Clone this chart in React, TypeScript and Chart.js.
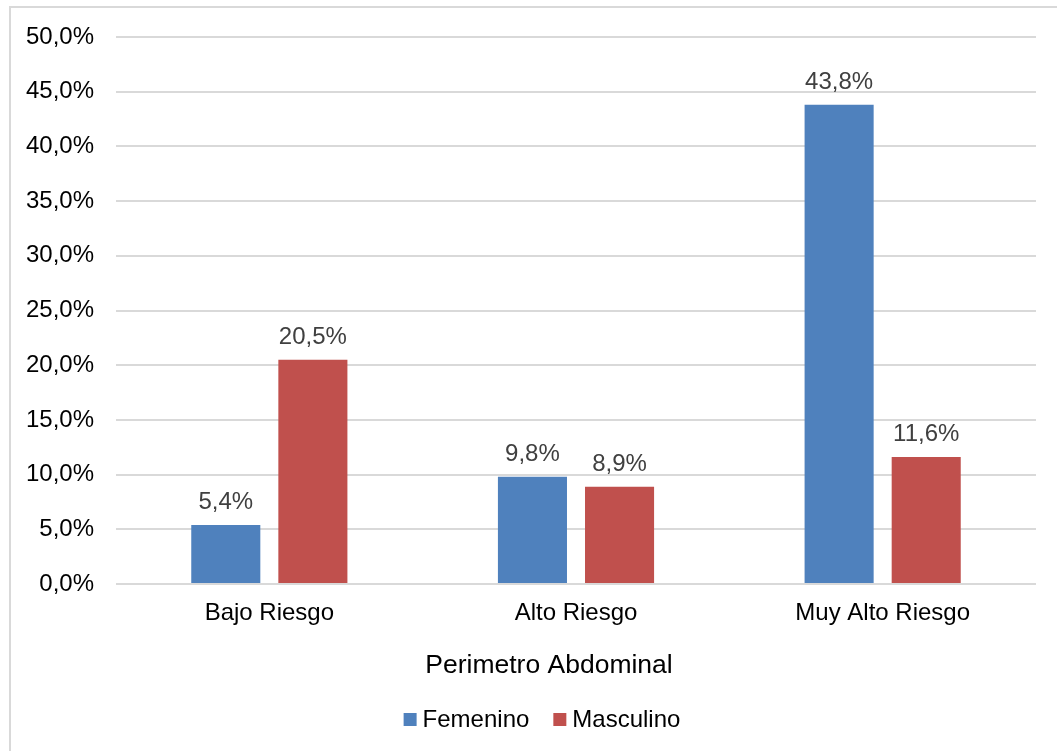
import React, { useEffect, useRef } from "react";
import { Chart, registerables } from "chart.js";

Chart.register(...registerables);

const categories = ["Bajo Riesgo", "Alto Riesgo", "Muy Alto Riesgo"];
const femenino = [5.4, 9.8, 43.8];
const masculino = [20.5, 8.9, 11.6];
const seriesNames = ["Femenino", "Masculino"];
const seriesColors = ["#4F81BD", "#C0504D"];
const axisTitle = "Perimetro Abdominal";

const FONT = "Arial, 'Liberation Sans', sans-serif";
const pct = (v: number) => v.toFixed(1).replace(".", ",") + "%";

// Writes each bar's value above it
const valueLabels = {
  id: "valueLabels",
  afterDatasetsDraw(chart: any) {
    const ctx = chart.ctx;
    ctx.save();
    ctx.font = `24px ${FONT}`;
    ctx.fillStyle = "#404040";
    ctx.textAlign = "center";
    ctx.textBaseline = "alphabetic";
    chart.data.datasets.forEach((ds: any, i: number) => {
      const meta = chart.getDatasetMeta(i);
      meta.data.forEach((el: any, j: number) => {
        ctx.fillText(pct(ds.data[j]), el.x, el.y - 16);
      });
    });
    ctx.restore();
  },
};

// Category-axis title, centred on the whole chart frame rather than the plot area
const frameCenterX = 549;
const axisTitlePlugin = {
  id: "axisTitlePlugin",
  afterDraw(chart: any) {
    const ctx = chart.ctx;
    ctx.save();
    ctx.font = `26.5px ${FONT}`;
    ctx.fillStyle = "#000";
    ctx.textAlign = "center";
    ctx.textBaseline = "alphabetic";
    ctx.fillText(axisTitle, frameCenterX, 673);
    ctx.restore();
  },
};

// Legend row along the bottom: square swatch, small gap, series name
const bottomLegend = {
  id: "bottomLegend",
  afterDraw(chart: any) {
    const ctx = chart.ctx;
    const box = 13;
    const gapText = 6;
    const gapItem = 24;
    const baseline = 727;
    ctx.save();
    ctx.font = `24px ${FONT}`;
    ctx.textBaseline = "alphabetic";
    ctx.textAlign = "left";
    const items = chart.data.datasets.map((ds: any) => ({
      text: ds.label,
      color: ds.backgroundColor,
      w: ctx.measureText(ds.label).width,
    }));
    const total =
      items.reduce((s: number, it: any) => s + box + gapText + it.w, 0) + gapItem * (items.length - 1);
    let x = frameCenterX - 7 - total / 2;
    items.forEach((it: any) => {
      ctx.fillStyle = it.color;
      ctx.fillRect(x, baseline - 14, box, box);
      x += box + gapText;
      ctx.fillStyle = "#000";
      ctx.fillText(it.text, x, baseline);
      x += it.w + gapItem;
    });
    ctx.restore();
  },
};

export default function App() {
  const ref = useRef<HTMLCanvasElement>(null);

  useEffect(() => {
    if (!ref.current) return;
    const chart = new Chart(ref.current, {
      type: "bar",
      data: {
        labels: categories,
        datasets: [
          {
            label: seriesNames[0],
            data: femenino,
            backgroundColor: seriesColors[0],
            categoryPercentage: 0.568,
            barPercentage: 0.793,
          },
          {
            label: seriesNames[1],
            data: masculino,
            backgroundColor: seriesColors[1],
            categoryPercentage: 0.568,
            barPercentage: 0.793,
          },
        ],
      },
      options: {
        animation: false,
        responsive: false,
        maintainAspectRatio: false,
        layout: { padding: { left: 20, right: 21, top: 37, bottom: 55 } },
        scales: {
          x: {
            grid: { display: false },
            border: { display: false },
            ticks: { color: "#000", font: { family: FONT, size: 24 }, padding: 7 },
            afterFit: (s: any) => {
              s.height = 112;
            },
          },
          y: {
            min: 0,
            max: 50,
            ticks: {
              stepSize: 5,
              color: "#000",
              font: { family: FONT, size: 24 },
              padding: 22,
              callback: (v: any) => pct(Number(v)),
            },
            grid: { color: "#d9d9d9", lineWidth: 2, drawTicks: false },
            border: { display: false },
            afterFit: (s: any) => {
              s.width = 96;
            },
          },
        },
        plugins: {
          legend: { display: false },
          tooltip: { enabled: false },
        },
      },
      plugins: [valueLabels, axisTitlePlugin, bottomLegend],
    });
    return () => chart.destroy();
  }, []);

  return (
    <div style={{ position: "absolute", left: 0, top: 0, width: 1057, height: 751, background: "#fff", overflow: "hidden" }}>
      <div
        style={{
          position: "absolute",
          left: 9,
          top: 6,
          width: 1100,
          height: 800,
          borderLeft: "2px solid #d9d9d9",
          borderTop: "2px solid #d9d9d9",
        }}
      />
      <canvas ref={ref} width={1057} height={751} style={{ position: "absolute", left: 0, top: 0 }} />
    </div>
  );
}
